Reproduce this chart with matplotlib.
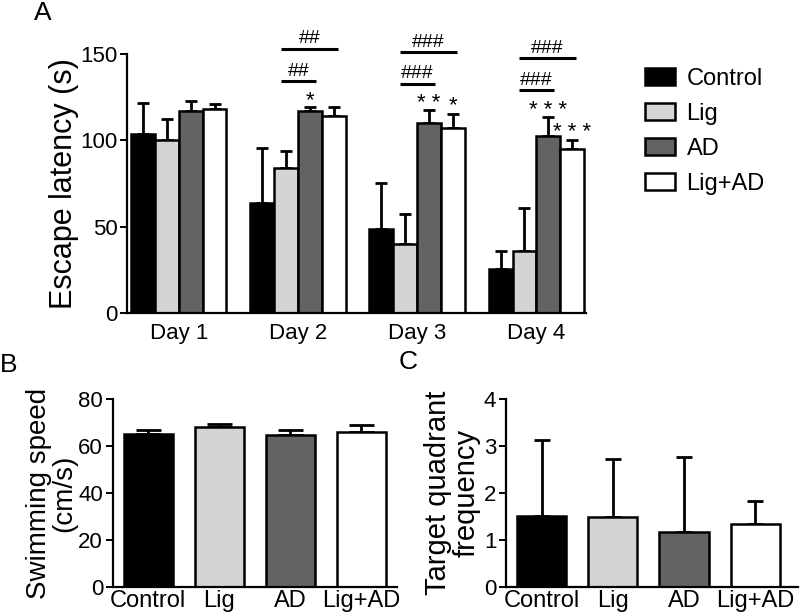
import numpy as np
import matplotlib
matplotlib.use('Agg')
import matplotlib.pyplot as plt

plt.rcParams['font.family'] = ['Liberation Sans', 'DejaVu Sans']

# 数据：逃避潜伏期（四组，四天）
groups = ['Control', 'Lig', 'AD', 'Lig+AD']
days = ['Day 1', 'Day 2', 'Day 3', 'Day 4']
colors = ['#000000', '#d4d4d4', '#636363', '#ffffff']

latency_control = [104.0, 63.5, 48.8, 25.5]
latency_lig = [100.3, 84.2, 39.7, 35.8]
latency_ad = [117.2, 116.8, 110.0, 102.3]
latency_ligad = [118.3, 114.4, 107.1, 94.8]
latency_top_control = [121.8, 95.8, 75.3, 35.8]
latency_top_lig = [112.5, 93.7, 57.1, 61.0]
latency_top_ad = [123.0, 119.3, 117.5, 113.6]
latency_top_ligad = [121.2, 119.3, 115.6, 100.2]

# 显著性标记
hash_labels = ['##', '###', '###']
hash_days = [1, 2, 3]
hash_upper_y = [153.3, 151.3, 147.8]
hash_lower_y = [134.3, 133.0, 129.1]
star_labels_ad = ['*', '* *', '* * *']
star_labels_ligad = ['', '*', '* * *']

# 游泳速度
speed = [65.1, 68.1, 64.7, 66.0]
speed_top = [66.7, 69.5, 66.7, 68.8]

# 目标象限频次
freq = [1.52, 1.50, 1.18, 1.34]
freq_top = [3.14, 2.73, 2.77, 1.84]

fig = plt.figure(figsize=(8, 6.16), dpi=100)

def style_axis(ax, xsize=16):
    for s in ['top', 'right']:
        ax.spines[s].set_visible(False)
    for s in ['left', 'bottom']:
        ax.spines[s].set_linewidth(1.6)
    ax.tick_params(axis='y', direction='out', length=5, width=1.4, pad=2, labelsize=16)
    ax.tick_params(axis='x', length=0, labelsize=xsize)

# ---- A ----
axA = fig.add_axes([0.159, 0.492, 0.574, 0.420])
means = [latency_control, latency_lig, latency_ad, latency_ligad]
tops = [latency_top_control, latency_top_lig, latency_top_ad, latency_top_ligad]
x = np.arange(len(days))
w = 0.2
for i in range(4):
    xi = x + (i - 1.5) * w
    m = np.array(means[i])
    t = np.array(tops[i])
    axA.bar(xi, m, width=w, color=colors[i], edgecolor='black', linewidth=1.8, label=groups[i], zorder=2)
    axA.errorbar(xi, m, yerr=[np.zeros_like(m), t - m], fmt='none', ecolor='black',
                 elinewidth=2, capsize=4, capthick=2, zorder=1)
axA.set_xlim(-0.433, 3.42)
axA.set_ylim(0, 150)
axA.set_yticks([0, 50, 100, 150])
axA.set_xticks(x)
axA.set_xticklabels(days)
axA.set_ylabel('Escape latency (s)', fontsize=22, labelpad=1)
style_axis(axA)
axA.tick_params(axis='x', pad=7)

for k, d in enumerate(hash_days):
    x0 = d - 0.145
    axA.plot([x0, d + 0.335], [hash_upper_y[k]] * 2, color='black', lw=2.2, clip_on=False, solid_capstyle='butt')
    axA.plot([x0, d + 0.15], [hash_lower_y[k]] * 2, color='black', lw=2.2, clip_on=False, solid_capstyle='butt')
    axA.text((x0 + d + 0.335) / 2, hash_upper_y[k] + 0.8, hash_labels[k], ha='center', va='bottom',
             fontsize=14, clip_on=False)
    axA.text((x0 + d + 0.15) / 2, hash_lower_y[k] + 0.8, hash_labels[k], ha='center', va='bottom',
             fontsize=14, clip_on=False)

for d in range(1, 4):
    axA.text(d + 0.5 * w, latency_top_ad[d] + 0.5, star_labels_ad[d - 1], ha='center', va='baseline',
             fontsize=16)
    if star_labels_ligad[d - 1]:
        axA.text(d + 1.5 * w, latency_top_ligad[d] + 1.5, star_labels_ligad[d - 1], ha='center',
                 va='baseline', fontsize=16)

axA.legend(loc='upper left', bbox_to_anchor=(0.806, 0.89), bbox_transform=fig.transFigure,
           frameon=False, fontsize=17, handlelength=1.27, handleheight=0.68,
           handletextpad=0.5, labelspacing=0.55, borderpad=0, borderaxespad=0)

# ---- B ----
axB = fig.add_axes([0.141, 0.047, 0.355, 0.305])
xb = np.arange(len(groups))
axB.bar(xb, speed, width=0.69, color=colors, edgecolor='black', linewidth=1.8, zorder=2)
axB.errorbar(xb, speed, yerr=[np.zeros(4), np.array(speed_top) - np.array(speed)], fmt='none',
             ecolor='black', elinewidth=2, capsize=9, capthick=2, zorder=1)
axB.set_xlim(-0.5, 3.5)
axB.set_ylim(0, 80)
axB.set_yticks([0, 20, 40, 60, 80])
axB.set_xticks(xb)
axB.set_xticklabels(groups)
axB.set_ylabel('Swimming speed\n(cm/s)', fontsize=20, labelpad=1, linespacing=0.95)
style_axis(axB, xsize=17)
axB.tick_params(axis='x', pad=2)

# ---- C ----
axC = fig.add_axes([0.6325, 0.047, 0.365, 0.305])
axC.bar(xb, freq, width=0.69, color=colors, edgecolor='black', linewidth=1.8, zorder=2)
axC.errorbar(xb, freq, yerr=[np.zeros(4), np.array(freq_top) - np.array(freq)], fmt='none',
             ecolor='black', elinewidth=2, capsize=6, capthick=2, zorder=1)
axC.set_xlim(-0.5, 3.6)
axC.set_ylim(0, 4)
axC.set_yticks([0, 1, 2, 3, 4])
axC.set_xticks(xb)
axC.set_xticklabels(groups)
axC.set_ylabel('Target quadrant\nfrequency', fontsize=21, labelpad=2.5, linespacing=1.0)
style_axis(axC, xsize=17)
axC.tick_params(axis='x', pad=2)

fig.text(0.054, 0.979, 'A', fontsize=19, ha='center', va='center')
fig.text(0.011, 0.407, 'B', fontsize=19, ha='center', va='center')
fig.text(0.510, 0.412, 'C', fontsize=19, ha='center', va='center')

fig.savefig('out.png', dpi=100)
